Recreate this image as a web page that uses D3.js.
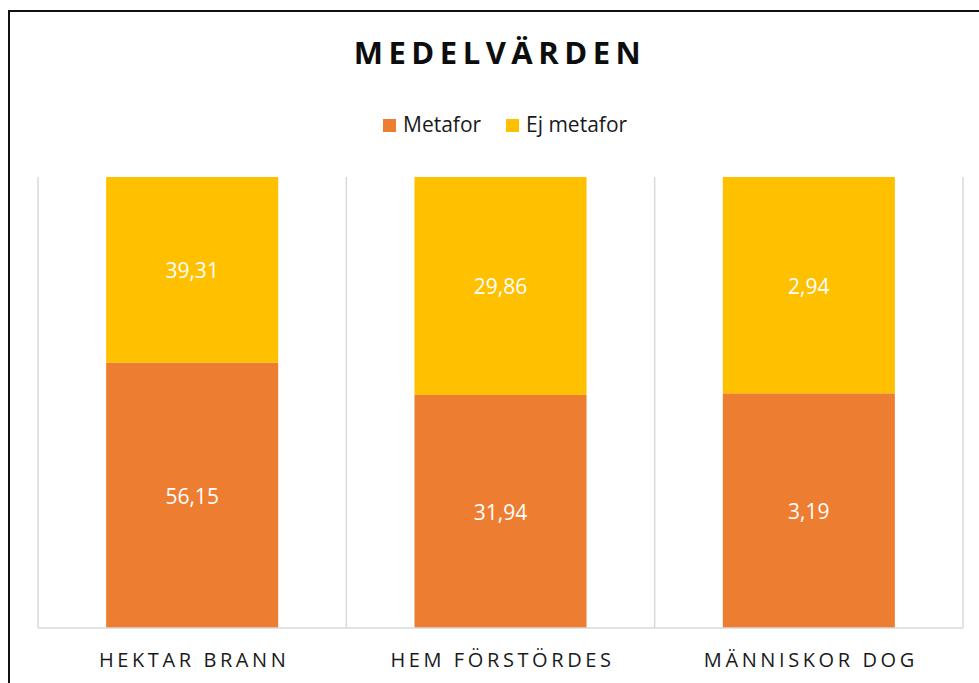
<!DOCTYPE html>
<html>
<head>
<meta charset="utf-8">
<script src="https://cdn.jsdelivr.net/npm/d3@7"></script>
<style>
  body { margin: 0; background: #fff; }
  text { font-family: 'Open Sans', sans-serif; }
</style>
</head>
<body>
<div id="chart"></div>
<script>
// chart data
const categories = ['HEKTAR BRANN', 'HEM FÖRSTÖRDES', 'MÄNNISKOR DOG'];
const seriesNames = ['Metafor', 'Ej metafor'];
const metafor = [56.15, 31.94, 3.19];
const ejMetafor = [39.31, 29.86, 2.94];
const seriesColors = ['#ED7D31', '#FFC000'];

const width = 979;
const height = 683;
const margin = { top: 177, right: 16, bottom: 55, left: 38 };

const rows = categories.map((c, i) => ({
  category: c,
  Metafor: metafor[i],
  'Ej metafor': ejMetafor[i],
}));

const stacked = d3.stack()
  .keys(seriesNames)
  .offset(d3.stackOffsetExpand)(rows);

const svg = d3.select('#chart')
  .append('svg')
  .attr('width', width)
  .attr('height', height);

// outer frame (runs off the right and bottom edges)
svg.append('rect')
  .attr('x', 9)
  .attr('y', 11)
  .attr('width', 1200)
  .attr('height', 1200)
  .style('fill', 'none')
  .style('stroke', '#111')
  .style('stroke-width', 2);

const x = d3.scaleBand()
  .domain(categories)
  .range([margin.left, width - margin.right])
  .paddingInner(0.442)
  .paddingOuter(0.221);

const y = d3.scaleLinear()
  .domain([0, 1])
  .range([height - margin.bottom, margin.top]);

const color = d3.scaleOrdinal().domain(seriesNames).range(seriesColors);

// vertical separators between categories
const step = x.step();
const bounds = d3.range(categories.length + 1)
  .map((i) => x.range()[0] + i * step);

svg.append('g')
  .attr('class', 'grid')
  .selectAll('line')
  .data(bounds)
  .join('line')
  .attr('x1', (d) => d)
  .attr('x2', (d) => d)
  .attr('y1', y(1))
  .attr('y2', y(0))
  .style('stroke', '#d9d9d9')
  .style('stroke-width', 1.5);

// bars
const layers = svg.append('g')
  .attr('class', 'bars')
  .selectAll('g')
  .data(stacked)
  .join('g')
  .style('fill', (d) => color(d.key));

layers.selectAll('rect')
  .data((d) => d)
  .join('rect')
  .attr('x', (d) => x(d.data.category))
  .attr('width', x.bandwidth())
  .attr('y', (d) => y(d[1]))
  .attr('height', (d) => y(d[0]) - y(d[1]));

// value labels
const fmt = (v) => v.toFixed(2).replace('.', ',');

svg.append('g')
  .attr('class', 'labels')
  .selectAll('g')
  .data(stacked)
  .join('g')
  .selectAll('text')
  .data((layer) => layer.map((d) => ({ key: layer.key, d })))
  .join('text')
  .attr('x', (e) => x(e.d.data.category) + x.bandwidth() / 2)
  .attr('y', (e) => (y(e.d[0]) + y(e.d[1])) / 2 + 1)
  .attr('dy', '0.35em')
  .attr('text-anchor', 'middle')
  .style('fill', '#fff')
  .style('font-size', '21px')
  .text((e) => fmt(e.d.data[e.key]));

// x axis line
svg.append('line')
  .attr('x1', x.range()[0])
  .attr('x2', x.range()[1])
  .attr('y1', y(0))
  .attr('y2', y(0))
  .style('stroke', '#d9d9d9')
  .style('stroke-width', 1.5);

// category labels
svg.append('g')
  .attr('class', 'x-labels')
  .selectAll('text')
  .data(categories)
  .join('text')
  .attr('x', (d) => x(d) + x.bandwidth() / 2 + 2)
  .attr('y', 667)
  .attr('text-anchor', 'middle')
  .style('font-size', '20px')
  .style('letter-spacing', '3.6px')
  .style('fill', '#1a1a1a')
  .text((d) => d);

// title
svg.append('text')
  .attr('x', 500)
  .attr('y', 64)
  .attr('text-anchor', 'middle')
  .style('font-size', '31px')
  .style('font-weight', 'bold')
  .style('letter-spacing', '5.5px')
  .style('fill', '#0d0d0d')
  .text('MEDELVÄRDEN');

// legend
const legendX = [383, 506];
const legend = svg.append('g')
  .attr('class', 'legend')
  .selectAll('g')
  .data(seriesNames)
  .join('g')
  .attr('transform', (d, i) => `translate(${legendX[i]},119)`);

legend.append('rect')
  .attr('width', 13)
  .attr('height', 13)
  .style('fill', (d) => color(d));

legend.append('text')
  .attr('x', 20)
  .attr('y', 13)
  .style('font-size', '21px')
  .style('fill', '#1a1a1a')
  .text((d) => d);
</script>
</body>
</html>
